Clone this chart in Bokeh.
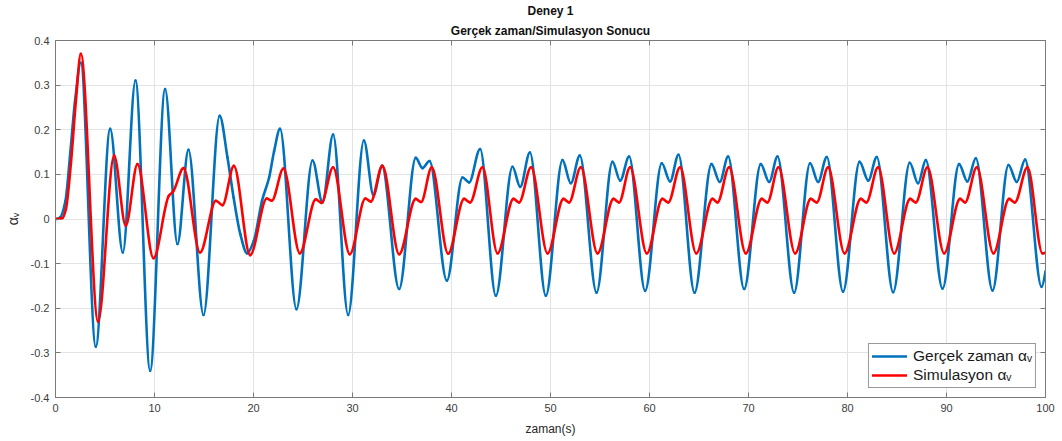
import numpy as np
from bokeh.plotting import figure
from bokeh.models import (Range1d, LinearAxis, FixedTicker, Title, Legend,
                          LegendItem, ColumnDataSource)
from bokeh.embed import file_html
from bokeh.resources import INLINE

# Real-time run: turning points and bend points of the alpha_v trace
real_t = [0, 0.45, 1.0, 1.5, 2.0, 2.55, 4.07, 5.52, 6.8, 8.08, 9.56, 11.07, 12.32,
          13.43, 14.95, 16.58, 17.37, 17.99, 18.67, 19.35, 20.03, 20.86, 21.58,
          22.08, 22.68, 24.34, 25.96, 26.97, 28.04, 29.56, 31.15, 32.12, 32.98,
          34.71, 36.39, 37.07, 37.78, 39.53, 41.11, 41.78, 42.89, 44.48, 46.16,
          46.94, 47.92, 49.53, 51.21, 52.05, 52.96, 54.65, 56.26, 57.04, 57.94,
          59.56, 61.24, 62.08, 62.93, 64.55, 66.26, 67.1, 67.94, 69.56, 71.24,
          72.09, 72.93, 74.61, 76.22, 77.03, 77.91, 79.55, 81.22, 82.1, 82.96,
          84.61, 86.29, 87.13, 87.91, 89.6, 91.27, 92.11, 92.96, 94.65, 96.26,
          97.1, 97.94, 99.6, 100]
real_a = [0, 0.003, 0.04, 0.15, 0.27, 0.350, -0.286, 0.202, -0.075, 0.310, -0.340,
          0.291, -0.056, 0.155, -0.215, 0.231, 0.138, 0.048, -0.034, -0.077,
          -0.049, 0.041, 0.093, 0.152, 0.202, -0.202, 0.131, 0.037, 0.189, -0.215,
          0.176, 0.053, 0.119, -0.157, 0.137, 0.114, 0.130, -0.138, 0.093, 0.082,
          0.157, -0.172, 0.117, 0.072, 0.149, -0.172, 0.132, 0.080, 0.142, -0.165,
          0.128, 0.086, 0.140, -0.161, 0.125, 0.084, 0.144, -0.165, 0.123, 0.083,
          0.140, -0.157, 0.123, 0.083, 0.140, -0.165, 0.125, 0.083, 0.139, -0.163,
          0.128, 0.086, 0.139, -0.164, 0.126, 0.080, 0.132, -0.156, 0.123, 0.084,
          0.136, -0.160, 0.121, 0.083, 0.133, -0.152, -0.117]

# Simulation run: turning points and bend points of the alpha_v trace
sim_t = [0, 0.7, 1.05, 1.55, 2.05, 2.56, 4.3, 5.92, 7.1, 8.28, 9.9, 11.45, 11.9,
         12.93, 14.6, 16.2, 16.87, 18.02, 19.66, 21.34, 21.85, 23.03, 24.68,
         26.29, 26.86, 28.04, 29.73, 31.3, 31.85, 33.03, 34.71, 36.38, 36.93,
         38.01, 39.66, 41.27, 41.88, 43.13, 44.65, 46.26, 46.83, 48.04, 49.7,
         51.31, 51.88, 53.06, 54.75, 56.36, 56.93, 58.04, 59.73, 61.3, 61.9,
         63.09, 64.72, 66.36, 66.87, 68.04, 69.73, 71.34, 71.91, 73.03, 74.71,
         76.29, 76.9, 78.04, 79.7, 81.34, 81.91, 83.09, 84.71, 86.33, 86.9,
         88.08, 89.76, 91.37, 91.88, 93.06, 94.74, 96.33, 96.9, 98.18, 99.69, 100]
sim_a = [0, 0.002, 0.022, 0.123, 0.262, 0.370, -0.230, 0.142, -0.015, 0.123,
         -0.088, 0.052, 0.062, 0.114, -0.075, 0.041, 0.031, 0.119, -0.081, 0.046,
         0.041, 0.113, -0.077, 0.044, 0.036, 0.116, -0.079, 0.046, 0.039, 0.119,
         -0.079, 0.045, 0.038, 0.116, -0.078, 0.045, 0.037, 0.116, -0.077, 0.045,
         0.037, 0.116, -0.077, 0.045, 0.037, 0.116, -0.077, 0.045, 0.037, 0.116,
         -0.077, 0.045, 0.037, 0.116, -0.077, 0.045, 0.037, 0.116, -0.077, 0.045,
         0.037, 0.116, -0.077, 0.045, 0.037, 0.116, -0.077, 0.045, 0.037, 0.116,
         -0.077, 0.045, 0.037, 0.116, -0.077, 0.045, 0.037, 0.116, -0.077, 0.045,
         0.037, 0.116, -0.077, -0.075]

x_ticks = [0, 10, 20, 30, 40, 50, 60, 70, 80, 90, 100]
x_tick_labels = ["0", "10", "20", "30", "40", "50", "60", "70", "80", "90", "100"]
y_ticks = [-0.4, -0.3, -0.2, -0.1, 0, 0.1, 0.2, 0.3, 0.4]
y_tick_labels = ["-0.4", "-0.3", "-0.2", "-0.1", "0", "0.1", "0.2", "0.3", "0.4"]

series_names = ["Gerçek zaman α\u1d65", "Simulasyon α\u1d65"]
title_lines = ["Deney 1", "Gerçek zaman/Simulasyon Sonucu"]


def _edge_slope(h0, h1, d0, d1):
    m = ((2 * h0 + h1) * d0 - h0 * d1) / (h0 + h1)
    if np.sign(m) != np.sign(d0):
        m = 0.0
    elif np.sign(d0) != np.sign(d1) and abs(m) > abs(3 * d0):
        m = 3 * d0
    return m


def pchip_slopes(x, y):
    """Shape-preserving tangents, flat at every turning point."""
    h = np.diff(x)
    d = np.diff(y) / h
    m = np.zeros_like(x)
    for k in range(1, len(x) - 1):
        if d[k - 1] * d[k] > 0:
            w1 = 2 * h[k] + h[k - 1]
            w2 = h[k] + 2 * h[k - 1]
            m[k] = (w1 + w2) / (w1 / d[k - 1] + w2 / d[k])
    m[0] = _edge_slope(h[0], h[1], d[0], d[1])
    m[-1] = _edge_slope(h[-1], h[-2], d[-1], d[-2])
    return m


def curve_source(t, a):
    """Cubic Bezier pieces joining consecutive readings."""
    x = np.asarray(t, dtype=float)
    y = np.asarray(a, dtype=float)
    m = pchip_slopes(x, y)
    h = np.diff(x)
    return ColumnDataSource(dict(
        x0=x[:-1], y0=y[:-1], x1=x[1:], y1=y[1:],
        cx0=x[:-1] + h / 3, cy0=y[:-1] + m[:-1] * h / 3,
        cx1=x[1:] - h / 3, cy1=y[1:] - m[1:] * h / 3,
    ))


FONT = "Liberation Sans"
AX_COLOR = "#7a7a7a"
TXT_COLOR = "#3c3c3c"

p = figure(width=1062, height=441, output_backend="svg", toolbar_location=None,
           title=None, x_range=Range1d(0, 100), y_range=Range1d(-0.4, 0.4),
           min_border_left=55, min_border_right=17, min_border_top=40,
           min_border_bottom=44, x_axis_label="zaman(s)", y_axis_label="α\u1d65")
p.background_fill_color = "white"
p.border_fill_color = "white"
p.outline_line_color = AX_COLOR
p.outline_line_width = 1

for ax, ticks, labels in ((p.xaxis[0], x_ticks, x_tick_labels),
                          (p.yaxis[0], y_ticks, y_tick_labels)):
    ax.ticker = FixedTicker(ticks=ticks)
    ax.major_label_overrides = dict(zip(ticks, labels))
    ax.major_tick_in = 5
    ax.major_tick_out = 0
    ax.minor_tick_line_color = None
    ax.axis_line_color = AX_COLOR
    ax.major_tick_line_color = AX_COLOR
    ax.major_label_text_font = FONT
    ax.major_label_text_font_size = "11px"
    ax.major_label_text_color = TXT_COLOR
    ax.major_label_standoff = 6
    ax.axis_label_text_font = FONT
    ax.axis_label_text_font_style = "normal"
    ax.axis_label_text_color = "#262626"

p.xaxis.axis_label_text_font_size = "12px"
p.xaxis.axis_label_standoff = 7
p.yaxis.axis_label_text_font_size = "14px"
p.yaxis.axis_label_standoff = 7

# tick marks on the top and right edges of the box (no labels there)
for side, ticks in (("above", x_ticks), ("right", y_ticks)):
    box_axis = LinearAxis(ticker=FixedTicker(ticks=ticks),
                          major_label_overrides={t: "" for t in ticks},
                          major_label_text_color=None,
                          major_label_standoff=0,
                          major_tick_in=5, major_tick_out=0,
                          minor_tick_line_color=None,
                          axis_line_color=AX_COLOR,
                          major_tick_line_color=AX_COLOR)
    p.add_layout(box_axis, side)

p.grid.grid_line_color = "#e3e3e3"
p.grid.grid_line_width = 1

real_src = curve_source(real_t, real_a)
sim_src = curve_source(sim_t, sim_a)

r_real = p.bezier(x0="x0", y0="y0", x1="x1", y1="y1", cx0="cx0", cy0="cy0",
                  cx1="cx1", cy1="cy1", source=real_src,
                  line_color="#0072BD", line_width=2.6, line_cap="round")
r_sim = p.bezier(x0="x0", y0="y0", x1="x1", y1="y1", cx0="cx0", cy0="cy0",
                 cx1="cx1", cy1="cy1", source=sim_src,
                 line_color="#FF0000", line_width=2.6, line_cap="round")

legend = Legend(items=[LegendItem(label=series_names[0], renderers=[r_real]),
                       LegendItem(label=series_names[1], renderers=[r_sim])],
                location="bottom_right", margin=9, padding=3, spacing=1,
                glyph_width=35, glyph_height=14, label_height=14,
                label_standoff=6, label_text_font=FONT,
                label_text_font_size="15.5px", label_text_color="#1a1a1a",
                border_line_color="#333333", border_line_width=1,
                background_fill_color="white", background_fill_alpha=1)
p.add_layout(legend)

# two-line bold title; the line added last sits on top
for text, gap in zip(reversed(title_lines), (5, 3)):
    p.add_layout(Title(text=text, align="center", text_font=FONT,
                       text_font_style="bold", text_font_size="12px",
                       text_color="#111111", standoff=gap, offset=0), "above")

open("out.html", "w").write(file_html(p, INLINE))
